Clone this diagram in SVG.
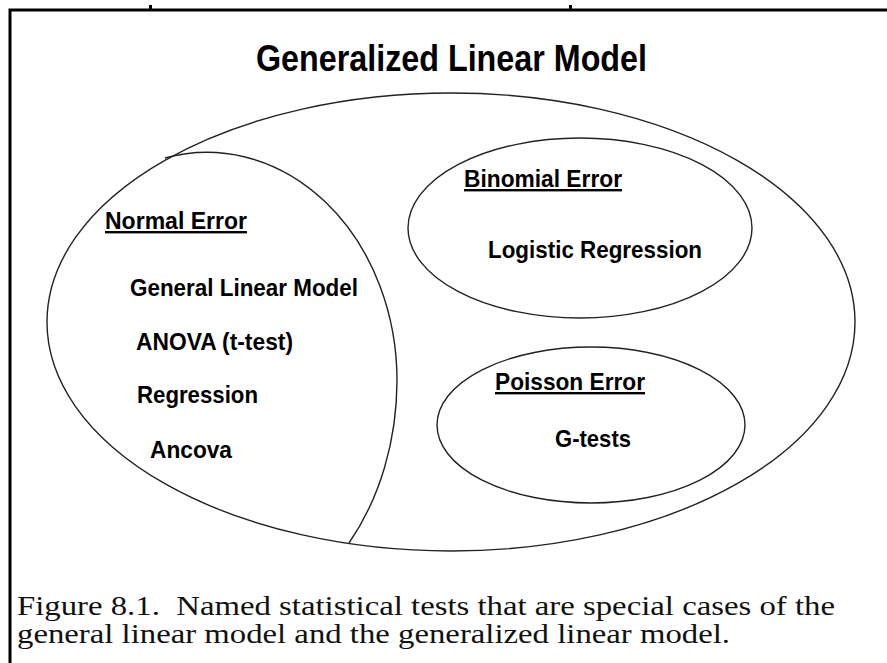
<svg xmlns="http://www.w3.org/2000/svg" width="887" height="663" viewBox="0 0 887 663">
<style>
.shape{fill:none;stroke:#222;stroke-width:1.4}
.lbl{font-family:"Liberation Sans",Arial,Helvetica,sans-serif;font-weight:bold;font-size:24px;fill:#000}
.hdr{text-decoration:underline}
.cap{font-family:"Liberation Serif","Times New Roman",Times,serif;font-size:27px;fill:#111}
</style>
<rect width="887" height="663" fill="#fff"/>
<g id="frame">
<path d="M10,663 V10 H887" fill="none" stroke="#000" stroke-width="3"/>
<rect x="149" y="5" width="3" height="4" fill="#000"/>
<rect x="569" y="5" width="3" height="4" fill="#000"/>
</g>
<g id="glm">
<ellipse class="shape" cx="451" cy="322" rx="404" ry="229"/>
<text class="lbl" x="256" y="71" textLength="391" lengthAdjust="spacingAndGlyphs" style="font-size:36px">Generalized Linear Model</text>
</g>
<g id="normal-error">
<path class="shape" d="M165,158 A190,228 0 0 1 397,380 A190,245 0 0 1 349,543"/>
<text class="lbl hdr" x="105" y="229" textLength="142" lengthAdjust="spacingAndGlyphs">Normal  Error</text>
<text class="lbl" x="130" y="296" textLength="228" lengthAdjust="spacingAndGlyphs">General Linear Model</text>
<text class="lbl" x="136" y="350" textLength="157" lengthAdjust="spacingAndGlyphs">ANOVA (t-test)</text>
<text class="lbl" x="137" y="403" textLength="121" lengthAdjust="spacingAndGlyphs">Regression</text>
<text class="lbl" x="150" y="458" textLength="82" lengthAdjust="spacingAndGlyphs">Ancova</text>
</g>
<g id="binomial-error">
<ellipse class="shape" cx="580" cy="228" rx="172" ry="90"/>
<text class="lbl hdr" x="464" y="187" textLength="158" lengthAdjust="spacingAndGlyphs">Binomial Error</text>
<text class="lbl" x="488" y="258" textLength="214" lengthAdjust="spacingAndGlyphs">Logistic Regression</text>
</g>
<g id="poisson-error">
<ellipse class="shape" cx="591" cy="425" rx="154" ry="78"/>
<text class="lbl hdr" x="495" y="390" textLength="150" lengthAdjust="spacingAndGlyphs">Poisson  Error</text>
<text class="lbl" x="555" y="447" textLength="76" lengthAdjust="spacingAndGlyphs">G-tests</text>
</g>
<g id="caption">
<text class="cap" x="17" y="615" textLength="818" lengthAdjust="spacingAndGlyphs" xml:space="preserve">Figure 8.1.  Named statistical tests that are special cases of the</text>
<text class="cap" x="17" y="643" textLength="713" lengthAdjust="spacingAndGlyphs">general linear model and the generalized linear model.</text>
</g>
</svg>
